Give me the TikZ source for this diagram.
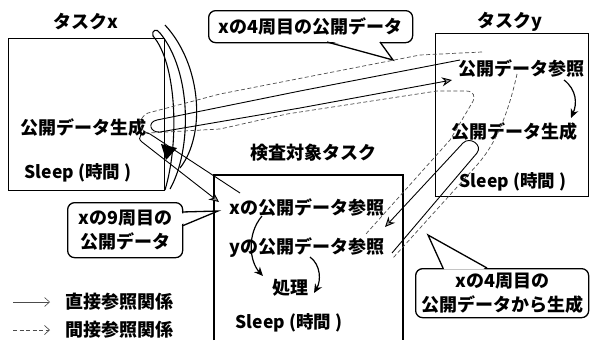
\documentclass[tikz,border=0pt]{standalone}
\usepackage{fontspec}
\setmainfont{Noto Sans CJK JP}
\usetikzlibrary{arrows.meta}
\begin{document}
\begin{tikzpicture}[x=1pt,y=-1pt,
  box/.style={draw,line width=1.3pt,inner sep=0pt},
  lbl/.style={font=\fontsize{18}{24}\selectfont\bfseries, inner sep=0pt, align=center},
  slp/.style={font=\fontsize{17.5}{20}\selectfont\bfseries, inner sep=0pt},
  tube/.style={line width=0.9pt},
  arcl/.style={line width=1.1pt},
  ind/.style={line width=0.7pt, dash pattern=on 4pt off 2.5pt, black!70},
  callout/.style={draw, line width=1.3pt, rounded corners=7pt, fill=white, inner sep=0pt},
  tail/.style={line width=1.3pt},
  gtip/.style={-{Stealth[length=10pt,width=9pt,fill=black!40]}},
  btip/.style={-{Stealth[length=9pt,width=8pt]}},
  legtip/.style={-{Straight Barb[length=5pt,width=9pt]}},
]
\useasboundingbox (0,0) rectangle (591,340);

% task boxes
\node[box, minimum width=156pt, minimum height=152pt, anchor=north west] (taskx) at (8,38) {};
\node[box, minimum width=153pt, minimum height=163pt, anchor=north west] (tasky) at (435,33) {};
\coordinate (inspBL) at (214,340);
\coordinate (inspTL) at (214,175);
\coordinate (inspTR) at (403,175);
\coordinate (inspBR) at (403,340);
\draw[line width=1.3pt] (inspBL) -- (inspTL) -- (inspTR) -- (inspBR);

% titles
\node[lbl] (tx) at (86,22) {タスクx};
\node[lbl] (ty) at (510,22) {タスクy};
\node[lbl] (ti) at (313,153) {検査対象タスク};

% task x contents
\node[lbl] (xgen) at (83,128) {公開データ生成};
\node[slp] (xslp) at (78,173) {Sleep (時間 )};

% task y contents
\node[lbl] (yref) at (521,68) {公開データ参照};
\node[lbl] (ygen) at (514,132) {公開データ生成};
\node[slp] (yslp) at (513,182) {Sleep (時間 )};

% inspection task contents
\node[lbl] (ixref) at (307,207) {xの公開データ参照};
\node[lbl] (iyref) at (307,248) {yの公開データ参照};
\node[lbl] (proc) at (290,288) {処理};
\node[slp] (islp) at (289,323) {Sleep (時間 )};

% loop arcs at task x
\coordinate (a1) at (153,36);
\coordinate (a2) at (160,33);
\coordinate (a3) at (165,25);
\draw[arcl] (a1) .. controls (176,62) and (180,140) .. (165,190);
\draw[arcl] (a2) .. controls (192,72) and (192,150) .. (170,189);
\draw[arcl] (a1) .. controls (151,30) and (157,28) .. (a2);
\draw[arcl] (a3) .. controls (202,65) and (206,135) .. (180,168);
\fill (161,144) -- (177,148) -- (166,160) -- cycle;

% indirect (dashed) envelopes
\coordinate (d1) at (482,52);
\coordinate (d2) at (365,235);
\draw[ind] (d1) -- (420,55) -- (220,94) -- (148,113)
  .. controls (138,117) and (138,131) .. (148,133)
  -- (220,129) -- (287,114) -- (437,91) -- (466,91)
  .. controls (474,91) and (476,97) .. (472,103) -- (450,140) -- (d2);
\coordinate (d3) at (517,74);
\coordinate (d4) at (393,258);
\draw[ind] (d3) .. controls (508,115) and (495,145) .. (477,165) -- (d4);

% direct tube x -> y
\coordinate (t1a) at (460,60);
\coordinate (t1b) at (452,80);
\draw[tube,gtip] (t1a) -- (300,91) -- (157,120)
  .. controls (147,122) and (150,133) .. (160,132) -- (300,108) -- (t1b);

% direct tube x -> inspection
\coordinate (t2a) at (240,193);
\coordinate (t2b) at (219,202);
\draw[tube,gtip] (t2a) -- (150,134)
  .. controls (142,130) and (136,138) .. (142,142) -- (t2b);

% direct tube y -> inspection
\coordinate (t3a) at (392,253);
\coordinate (t3b) at (385,227);
\draw[tube,gtip] (t3a) -- (477,153)
  .. controls (483,145) and (470,136) .. (463,143) -- (t3b);

% internal order arrows
\coordinate (ya) at (564,80);
\coordinate (yb) at (571,118);
\draw[line width=1.2pt,btip] (ya) .. controls (577,90) and (577,104) .. (yb);
\coordinate (ia) at (262,216);
\coordinate (ib) at (263,276);
\draw[line width=1.2pt,btip] (ia) .. controls (246,235) and (250,262) .. (ib);
\coordinate (ic) at (310,257);
\coordinate (id) at (314,293);
\draw[line width=1.2pt,btip] (ic) .. controls (321,265) and (321,281) .. (id);

% callout 1
\node[callout, minimum width=204pt, minimum height=32pt, anchor=north west] (c1) at (208,10) {};
\node[lbl] (c1t) at (c1.center) {xの4周目の公開データ};
\coordinate (c1tip) at (393,60);
\fill[white] (328.5,40.6) -- (c1tip) -- (378.5,40.6) -- cycle;
\draw[tail] (327,42) -- (c1tip) -- (380,42);

% callout 2
\node[callout, minimum width=115pt, minimum height=55pt, anchor=north west] (c2) at (67,202) {};
\node[lbl] (c2t) at (c2.center) {xの9周目の\\公開データ};
\coordinate (c2tip) at (218,211);
\fill[white] (180.6,213.5) -- (c2tip) -- (180.6,224.5) -- cycle;
\draw[tail] (182,212) -- (c2tip) -- (182,226);

% callout 3
\node[callout, minimum width=173pt, minimum height=49pt, anchor=north west] (c3) at (415,268) {};
\node[lbl] (c3t) at (c3.center) {xの4周目の\\公開データから生成};
\coordinate (c3tip) at (428,235);
\fill[white] (444.5,269.4) -- (c3tip) -- (485.5,269.4) -- cycle;
\draw[tail] (443,268) -- (c3tip) -- (487,268);

% legend
\coordinate (l1a) at (13,302);
\coordinate (l1b) at (50,302);
\draw[line width=0.6pt, black!70, legtip] (l1a) -- (l1b);
\node[lbl, anchor=west] (l1t) at (65,302) {直接参照関係};
\coordinate (l2a) at (13,330);
\coordinate (l2b) at (50,330);
\draw[ind, legtip] (l2a) -- (l2b);
\node[lbl, anchor=west] (l2t) at (65,330) {間接参照関係};
\end{tikzpicture}
\end{document}
